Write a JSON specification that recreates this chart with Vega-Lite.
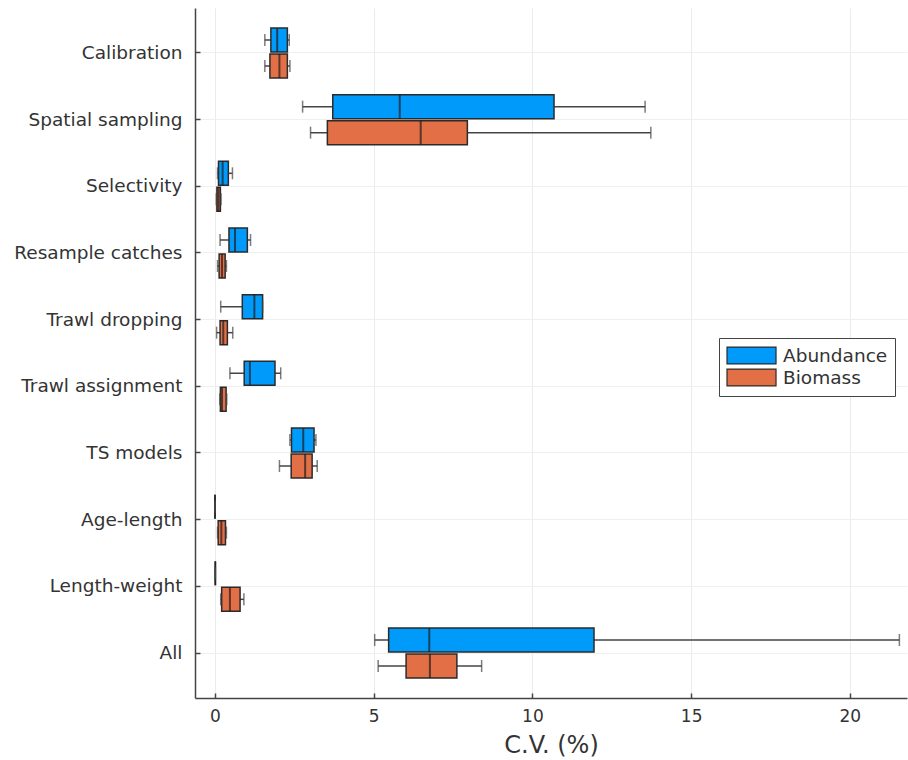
{
  "$schema": "https://vega.github.io/schema/vega-lite/v6.json",
  "width": 712,
  "height": 690,
  "autosize": {"type": "none"},
  "padding": {"left": 195, "top": 8, "right": 1, "bottom": 62},
  "background": "white",
  "config": {
    "view": {"stroke": null},
    "font": "DejaVu Sans",
    "axis": {
      "labelFont": "DejaVu Sans",
      "titleFont": "DejaVu Sans",
      "labelColor": "#333333",
      "titleColor": "#333333",
      "domainColor": "#444444",
      "domainWidth": 1.5,
      "tickColor": "#444444",
      "tickWidth": 1.5,
      "tickSize": -5,
      "gridColor": "#ebebeb",
      "gridWidth": 1,
      "labelFontSize": 17,
      "titleFontSize": 24,
      "titleFontWeight": "normal"
    }
  },
  "data": {
    "values": [
      {"cat": "Calibration", "series": "Abundance", "min": 1.57, "q1": 1.76, "med": 1.96, "q3": 2.28, "max": 2.34},
      {"cat": "Calibration", "series": "Biomass", "min": 1.57, "q1": 1.73, "med": 2.03, "q3": 2.28, "max": 2.36},
      {"cat": "Spatial sampling", "series": "Abundance", "min": 2.76, "q1": 3.71, "med": 5.82, "q3": 10.68, "max": 13.55},
      {"cat": "Spatial sampling", "series": "Biomass", "min": 3.01, "q1": 3.54, "med": 6.48, "q3": 7.95, "max": 13.73},
      {"cat": "Selectivity", "series": "Abundance", "min": 0.08, "q1": 0.11, "med": 0.24, "q3": 0.42, "max": 0.55},
      {"cat": "Selectivity", "series": "Biomass", "min": 0.04, "q1": 0.06, "med": 0.11, "q3": 0.17, "max": 0.19},
      {"cat": "Resample catches", "series": "Abundance", "min": 0.16, "q1": 0.44, "med": 0.63, "q3": 1.02, "max": 1.12},
      {"cat": "Resample catches", "series": "Biomass", "min": 0.08, "q1": 0.13, "med": 0.22, "q3": 0.32, "max": 0.36},
      {"cat": "Trawl dropping", "series": "Abundance", "min": 0.18, "q1": 0.86, "med": 1.24, "q3": 1.5, "max": 1.5},
      {"cat": "Trawl dropping", "series": "Biomass", "min": 0.05, "q1": 0.16, "med": 0.26, "q3": 0.39, "max": 0.56},
      {"cat": "Trawl assignment", "series": "Abundance", "min": 0.47, "q1": 0.92, "med": 1.1, "q3": 1.89, "max": 2.07},
      {"cat": "Trawl assignment", "series": "Biomass", "min": 0.15, "q1": 0.17, "med": 0.22, "q3": 0.35, "max": 0.37},
      {"cat": "TS models", "series": "Abundance", "min": 2.36, "q1": 2.41, "med": 2.78, "q3": 3.12, "max": 3.18},
      {"cat": "TS models", "series": "Biomass", "min": 2.03, "q1": 2.4, "med": 2.84, "q3": 3.06, "max": 3.22},
      {"cat": "Age-length", "series": "Abundance", "min": 0, "q1": 0, "med": 0, "q3": 0, "max": 0},
      {"cat": "Age-length", "series": "Biomass", "min": 0.08, "q1": 0.1, "med": 0.2, "q3": 0.33, "max": 0.36},
      {"cat": "Length-weight", "series": "Abundance", "min": 0.01, "q1": 0.01, "med": 0.01, "q3": 0.01, "max": 0.01},
      {"cat": "Length-weight", "series": "Biomass", "min": 0.18, "q1": 0.21, "med": 0.47, "q3": 0.79, "max": 0.91},
      {"cat": "All", "series": "Abundance", "min": 5.03, "q1": 5.47, "med": 6.75, "q3": 11.94, "max": 21.56},
      {"cat": "All", "series": "Biomass", "min": 5.14, "q1": 6.02, "med": 6.77, "q3": 7.62, "max": 8.4}
    ]
  },
  "encoding": {
    "y": {
      "field": "cat",
      "type": "nominal",
      "sort": ["Calibration", "Spatial sampling", "Selectivity", "Resample catches", "Trawl dropping", "Trawl assignment", "TS models", "Age-length", "Length-weight", "All"],
      "scale": {"paddingInner": 0, "paddingOuter": 0.175},
      "axis": {"title": null, "labelPadding": 18, "labelFontSize": 18.5, "grid": true, "gridColor": "#efefef"}
    },
    "yOffset": {
      "field": "series",
      "type": "nominal",
      "sort": ["Abundance", "Biomass"],
      "scale": {"paddingInner": 0.077, "paddingOuter": 0.32}
    }
  },
  "layer": [
    {
      "mark": {"type": "rule", "color": "#444444", "strokeWidth": 1.5},
      "encoding": {
        "x": {
          "field": "min",
          "type": "quantitative",
          "scale": {"domain": [-0.63, 21.8], "nice": false, "zero": false},
          "axis": {"title": "C.V. (%)", "values": [0, 5, 10, 15, 20], "labelPadding": 15, "titlePadding": 9, "grid": true}
        },
        "x2": {"field": "max"}
      }
    },
    {
      "mark": {"type": "bar", "stroke": "#2b2b2b", "strokeWidth": 1.5, "opacity": 1},
      "encoding": {
        "x": {"field": "q1", "type": "quantitative"},
        "x2": {"field": "q3"},
        "color": {
          "field": "series",
          "type": "nominal",
          "scale": {"domain": ["Abundance", "Biomass"], "range": ["#009AFA", "#E26F46"]},
          "legend": {
            "title": null,
            "orient": "none",
            "legendX": 524,
            "legendY": 330,
            "direction": "vertical",
            "symbolType": "M-1,-0.89H4.16V0.89H-1Z",
            "symbolSize": 361,
            "symbolStrokeColor": "#2b2b2b",
            "symbolStrokeWidth": 1.2,
            "symbolOpacity": 1,
            "labelFontSize": 18.5,
            "labelColor": "#333333",
            "labelFont": "DejaVu Sans",
            "labelOffset": 36,
            "rowPadding": -2,
            "padding": 7,
            "strokeColor": "#444444",
            "fillColor": "white",
            "cornerRadius": 0
          }
        }
      }
    },
    {
      "mark": {"type": "tick", "color": "#1e1e1e", "thickness": 2, "size": 24},
      "encoding": {"x": {"field": "med", "type": "quantitative"}}
    },
    {
      "mark": {"type": "tick", "color": "#444444", "thickness": 1.5, "size": 12},
      "encoding": {"x": {"field": "min", "type": "quantitative"}}
    },
    {
      "mark": {"type": "tick", "color": "#444444", "thickness": 1.5, "size": 12},
      "encoding": {"x": {"field": "max", "type": "quantitative"}}
    }
  ]
}
